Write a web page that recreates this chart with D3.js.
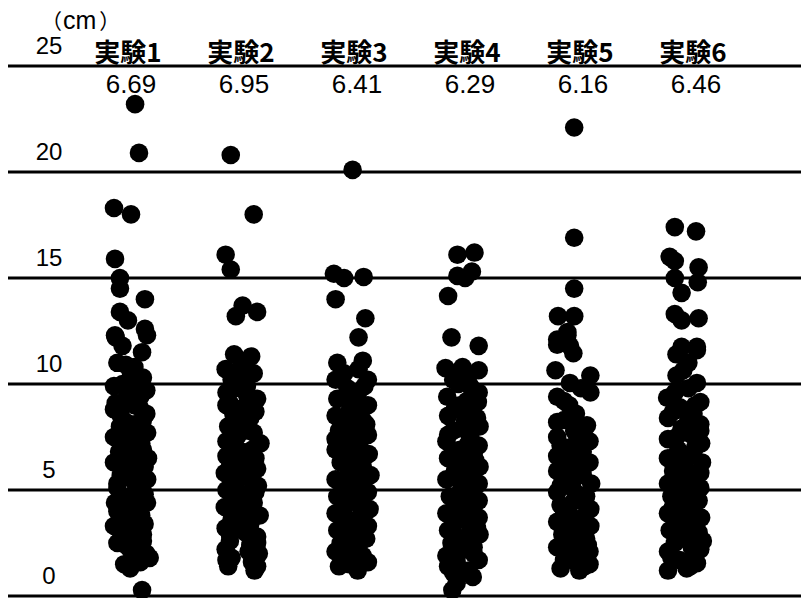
<!DOCTYPE html>
<html><head><meta charset="utf-8">
<script src="https://cdn.jsdelivr.net/npm/d3@7"></script>
<style>
html,body{margin:0;padding:0;background:#fff;}
svg{display:block;}
</style>
</head><body>
<svg id="chart" width="801" height="598"></svg>
<script>
// ---- data ----
const categories = ["実験1","実験2","実験3","実験4","実験5","実験6"];
const meanLabels = ["6.69","6.95","6.41","6.29","6.16","6.46"];
const yTicks = [0,5,10,15,20,25];
const unitLabel = "（cm）";
// each point: [value in cm, horizontal jitter in -1..1]
const exp1 = [[23.2,0.24],[20.9,0.47],[18.3,-1.0],[18.0,0.0],[15.9,-0.94],[15.0,-0.65],[14.5,-0.65],[14.0,0.82],[13.4,-0.65],[13.0,-0.18],[12.6,0.82],[12.3,-0.94],[12.3,0.94],
[12.2,-0.9],[11.8,-0.5],[11.5,0.65],[11.0,-0.8],[10.8,0.2],[10.5,0.0],[10.3,0.7],[10.0,-0.5],[9.9,-1.0],[9.6,-0.2],[9.4,0.55],[9.1,-0.9],[9.0,0.2],[8.8,-1.0],[8.6,0.9],[8.3,0.7],[8.2,-0.3],[8.0,-0.65],[7.8,0.3],[7.7,0.95],[7.5,-1.0],[7.4,0.1],[7.1,-0.5],[6.9,0.7],[6.7,-0.1],[6.5,1.0],[6.3,-1.0],[6.3,0.7],[6.0,-0.3],[5.8,0.4],[5.6,-0.2],[5.5,0.95],[5.3,-0.8],[5.1,-0.8],[5.0,0.3],[4.9,0.35],[4.7,-0.5],[4.4,-0.94],[4.4,0.94],[4.2,0.2],[4.1,-0.2],[3.8,0.6],[3.6,-0.6],[3.3,-1.0],[3.1,0.1],[2.9,0.7],[2.7,-0.6],[2.5,-0.8],[2.6,0.7],[2.3,0.2],[2.2,-0.05],[2.0,0.9],[1.8,1.1],[1.6,0.55],[1.3,-0.05],[0.28,0.65],
[10.9,-0.3],[10.1,0.3],[9.7,0.9],[9.2,-0.4],[8.9,0.5],[8.5,-0.6],[8.1,0.2],[7.6,-0.3],[7.2,0.6],[6.8,-0.7],[6.4,0.1],[6.1,0.8],[5.7,-0.6],[5.4,0.2],[4.8,0.8],[4.5,-0.2],[4.0,-0.8],[3.7,0.2],[3.4,0.8],[3.2,-0.4],[2.8,0.1],[2.4,-0.3],[1.9,0.3],[1.5,-0.4]];
const exp2 = [[20.8,-0.65],[18.0,0.7],[16.1,-0.95],[15.4,-0.65],[13.7,0.05],[13.2,-0.35],[13.4,0.9],
[11.4,-0.45],[11.3,0.55],[10.8,-0.05],[10.7,-0.95],[10.5,0.7],[10.2,-0.6],[9.9,0.3],[9.6,-0.9],[9.3,0.9],[9.15,-0.75],[8.9,0.1],[8.6,-0.5],[8.4,0.5],[8.0,-0.8],[7.8,0.2],[7.5,-0.3],[7.2,1.1],[7.1,-0.65],[6.9,0.6],[6.6,-0.9],[6.4,0.2],[6.2,-0.4],[6.0,0.9],[5.8,-1.0],[5.6,0.4],[5.4,-0.3],[5.2,0.95],[5.0,-0.9],[4.8,0.2],[4.6,-0.5],[4.4,0.7],[4.2,-1.0],[4.0,0.3],[3.8,1.05],[3.6,-0.6],[3.4,0.5],[3.2,-0.95],[3.0,0.2],[2.8,0.9],[2.6,-0.7],[2.4,0.5],[2.2,-0.95],[2.0,1.0],[1.8,-0.6],[1.6,0.6],[1.4,-0.8],[1.2,0.75],
[11.0,0.2],[10.4,-0.2],[9.8,-0.4],[9.5,0.3],[9.0,-0.9],[8.7,0.8],[8.2,-0.2],[7.7,0.7],[7.3,-0.9],[6.8,0.0],[6.5,0.8],[6.1,-0.7],[5.7,0.0],[5.3,-0.6],[4.9,0.8],[4.5,-0.1],[4.1,-0.6],[3.7,0.0],[3.3,-0.4],[2.9,-0.7],[2.5,0.9],[2.1,0.4],[1.7,-0.9],[1.4,0.9]];
const exp3 = [[20.1,0.0],[15.2,-1.1],[15.0,-0.5],[15.05,0.65],[14.0,-1.0],[13.1,0.75],[12.2,0.35],
[11.0,-0.9],[11.1,0.6],[10.7,0.35],[10.2,-1.0],[10.2,0.9],[9.8,-0.3],[9.5,0.3],[9.3,-0.9],[9.0,0.9],[8.7,-0.2],[8.5,-1.0],[8.3,0.6],[8.0,0.0],[7.8,-0.8],[7.6,0.9],[7.3,-0.4],[7.1,0.4],[6.9,-1.0],[6.7,0.95],[6.5,0.0],[6.3,-0.7],[6.1,0.6],[5.9,-0.2],[5.7,1.05],[5.5,-1.0],[5.3,0.3],[5.1,-0.5],[4.9,0.9],[4.7,-0.9],[4.5,0.2],[4.3,-0.4],[4.1,1.0],[3.9,-1.0],[3.7,0.4],[3.5,-0.3],[3.3,0.9],[3.1,-0.9],[2.9,0.2],[2.7,0.8],[2.5,-0.7],[2.3,0.3],[2.1,-1.0],[1.8,-0.5],[1.9,0.6],[1.5,-0.2],[1.2,0.3],
[10.5,-0.5],[9.9,0.7],[9.4,-0.4],[8.9,0.4],[8.4,-0.4],[8.1,0.8],[7.7,0.2],[7.4,-1.0],[7.0,-0.3],[6.6,0.5],[6.2,-0.1],[5.8,0.5],[5.4,-0.6],[5.0,0.3],[4.6,-0.3],[4.2,0.5],[3.8,-0.5],[3.4,0.2],[3.0,-0.5],[2.6,0.5],[2.2,-0.2],[1.6,0.9],[1.4,-0.8]];
const exp4 = [[16.1,-0.35],[16.2,0.65],[15.1,-0.35],[15.3,0.5],[15.0,0.1],[14.15,-0.9],[12.2,-0.7],[11.8,0.9],
[10.75,-1.05],[10.8,-0.05],[10.65,0.9],[10.2,-0.6],[9.9,0.4],[9.4,-0.95],[9.15,0.85],[9.0,-0.2],[8.7,0.5],[8.5,-0.9],[8.2,0.1],[8.0,0.95],[7.8,-0.6],[7.5,0.4],[7.3,-1.0],[7.1,0.9],[6.9,-0.2],[6.7,0.6],[6.5,-0.9],[6.3,0.1],[6.1,0.95],[5.9,-0.5],[5.7,0.4],[5.5,-1.0],[5.3,0.9],[5.1,-0.1],[4.9,0.5],[4.7,-0.8],[4.5,0.9],[4.3,-0.3],[4.1,0.3],[3.9,-1.0],[3.7,0.9],[3.5,-0.5],[3.3,0.4],[3.1,-0.9],[2.9,0.95],[2.7,0.0],[2.5,-0.7],[2.3,0.6],[2.1,-0.2],[1.9,-1.0],[1.7,0.9],[1.4,-0.9],[1.2,0.3],[0.9,0.55],[0.6,-0.4],[0.28,-0.65],
[10.4,0.3],[10.0,-0.3],[9.6,0.9],[9.2,0.2],[8.8,-0.5],[8.4,0.8],[7.9,-0.1],[7.6,-0.9],[7.2,0.3],[6.8,-0.6],[6.4,0.7],[6.0,-0.1],[5.6,-0.6],[5.2,0.4],[4.8,-0.3],[4.4,0.3],[4.0,-0.5],[3.6,0.0],[3.2,0.8],[2.8,-0.4],[2.4,0.3],[2.0,0.6],[1.6,-0.4],[1.1,-0.6]];
const exp5 = [[22.1,0.0],[16.9,0.0],[14.5,0.0],[13.2,-0.95],[13.2,0.0],[12.45,-0.4],[12.1,-1.0],[11.8,-0.25],
[12.3,-0.4],[11.85,-1.0],[11.45,-0.05],[10.65,-1.1],[10.4,0.95],[10.05,-0.25],[9.6,0.95],[9.4,-1.0],[9.0,-0.3],[8.3,-0.6],[8.05,0.75],[7.8,0.0],[7.5,-1.0],[7.3,0.9],[7.0,-0.3],[6.8,0.5],[6.6,-1.0],[6.3,0.9],[6.1,-0.2],[5.9,-1.0],[5.7,0.5],[5.5,-0.5],[5.3,1.0],[5.1,-0.1],[4.9,-1.0],[4.7,0.7],[4.5,0.0],[4.3,-0.8],[4.1,0.95],[3.9,-0.3],[3.7,0.5],[3.5,-1.0],[3.3,0.95],[3.1,0.0],[2.9,-0.7],[2.7,0.7],[2.5,-0.2],[2.3,-1.0],[2.1,0.9],[1.9,0.2],[1.7,-0.6],[1.5,0.9],[1.3,-0.8],[1.2,0.3],
[9.8,0.4],[9.2,-0.6],[8.6,0.1],[8.2,-1.0],[7.9,0.6],[7.4,0.2],[7.1,-0.8],[6.7,0.0],[6.4,-0.6],[6.0,0.5],[5.6,-0.2],[5.2,-0.8],[4.8,0.2],[4.4,0.6],[4.0,-0.6],[3.6,0.0],[3.2,-0.5],[2.8,0.3],[2.4,0.8],[2.0,-0.4],[1.6,0.1],[1.4,0.6]];
const exp6 = [[17.4,-0.6],[17.2,0.65],[16.0,-0.9],[15.8,-0.6],[15.5,0.8],[15.0,-0.6],[14.8,0.75],[14.3,-0.2],[13.3,-0.6],[13.0,-0.2],[13.1,0.8],[11.75,-0.2],[11.75,0.7],
[11.4,-0.5],[11.6,0.7],[10.65,-0.1],[10.05,0.7],[9.35,-1.05],[9.15,0.9],[8.9,-0.3],[8.6,0.5],[8.4,-1.0],[8.1,0.9],[7.9,-0.2],[7.6,0.4],[7.4,-1.0],[7.2,0.95],[6.9,-0.4],[6.7,0.4],[6.5,-1.0],[6.3,1.0],[6.1,0.0],[5.9,-0.7],[5.7,0.6],[5.5,-0.2],[5.3,-1.0],[5.1,0.9],[4.9,0.1],[4.7,-0.8],[4.5,0.8],[4.3,-0.3],[4.1,0.3],[3.9,-1.0],[3.7,0.95],[3.5,-0.2],[3.3,0.5],[3.1,-0.9],[2.9,0.2],[2.6,1.05],[2.5,-0.6],[2.3,0.4],[2.1,-1.0],[1.9,0.6],[1.7,-0.3],[1.55,0.7],[1.2,-1.0],[1.3,0.1],
[11.0,0.2],[10.4,-0.5],[9.8,0.2],[9.6,-0.6],[9.0,0.6],[8.7,-0.7],[8.3,0.2],[7.8,0.9],[7.5,-0.5],[7.0,0.6],[6.6,-0.1],[6.2,-0.6],[5.8,0.9],[5.4,0.3],[5.0,-0.5],[4.6,0.1],[4.2,-0.7],[3.8,0.4],[3.4,-0.6],[3.0,0.8],[2.7,-0.3],[2.2,0.9],[1.8,-0.8],[1.4,0.3]];
const seriesData = [exp1,exp2,exp3,exp4,exp5,exp6];

// ---- drawing ----
const svg = d3.select("#chart");
const W = 801, H = 598;
const y = d3.scaleLinear().domain([0,25]).range([596,66]);
const xDots = d3.scalePoint().domain(categories).range([131,685]);
const xLabels = d3.scalePoint().domain(categories).range([128,693]);
const jitter = d3.scaleLinear().domain([-1,1]).range([-17,17]);

// gridlines
svg.append("g").selectAll("line").data(yTicks).join("line")
  .attr("x1",8).attr("x2",W)
  .attr("y1",d=>y(d)).attr("y2",d=>y(d))
  .attr("stroke","#000").attr("stroke-width",3);

// y tick labels
svg.append("g").selectAll("text").data(yTicks).join("text")
  .attr("x",49).attr("y",d=>y(d)-12)
  .attr("text-anchor","middle")
  .attr("font-family","'Liberation Sans', Arial, sans-serif")
  .attr("font-size",24)
  .attr("fill","#000")
  .text(d=>d);

// unit label: full-width parentheses in CJK font, "cm" in sans
const unit = svg.append("text").attr("x",41).attr("y",29)
  .attr("font-family","'Noto Sans CJK JP', sans-serif")
  .attr("font-size",21);
unit.append("tspan").text(unitLabel.slice(0,1));
unit.append("tspan").attr("dx",1)
  .attr("font-family","'Liberation Sans', Arial, sans-serif")
  .attr("font-size",25)
  .text(unitLabel.slice(1,-1));
unit.append("tspan").attr("dx",3).text(unitLabel.slice(-1));

// dots
const pts = [];
seriesData.forEach((arr,i)=>arr.forEach(p=>pts.push({cat:categories[i], v:p[0], j:p[1]})));
svg.append("g").selectAll("circle").data(pts).join("circle")
  .attr("cx",d=>xDots(d.cat)+jitter(d.j))
  .attr("cy",d=>y(d.v))
  .attr("r",9.3)
  .attr("fill","#000");

// category labels
svg.append("g").selectAll("text").data(categories).join("text")
  .attr("x",d=>xLabels(d)).attr("y",62)
  .attr("text-anchor","middle")
  .attr("font-family","'Noto Sans CJK JP', sans-serif")
  .attr("font-weight","bold")
  .attr("font-size",26)
  .text(d=>d);

// mean labels
svg.append("g").selectAll("text").data(meanLabels).join("text")
  .attr("x",(d,i)=>xLabels(categories[i])+3).attr("y",93)
  .attr("text-anchor","middle")
  .attr("font-family","'Liberation Sans', Arial, sans-serif")
  .attr("font-size",26)
  .text(d=>d);
</script>
</body></html>
